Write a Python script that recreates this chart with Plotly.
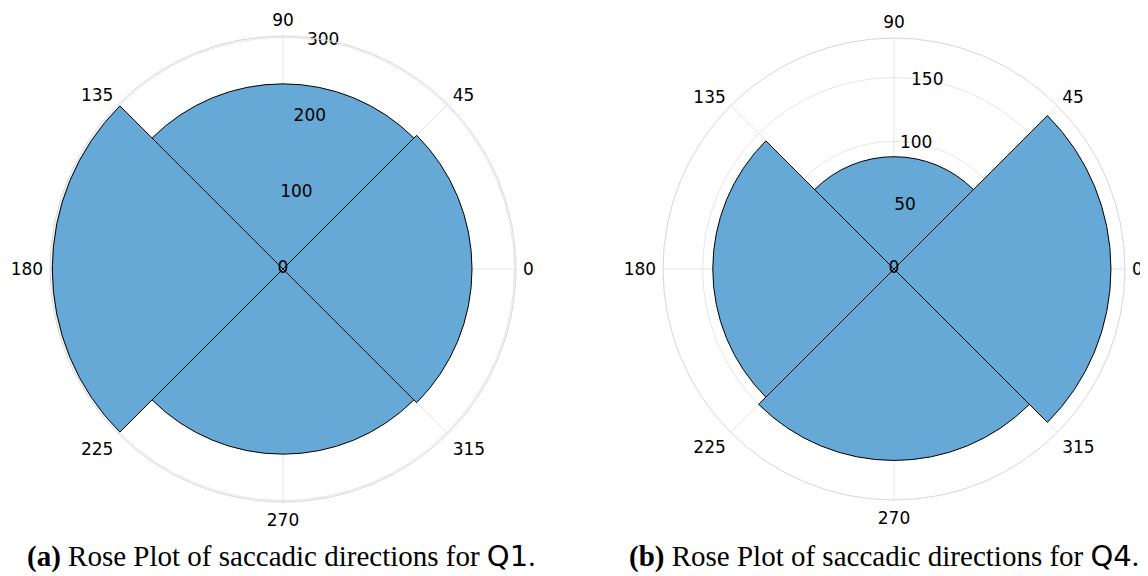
import plotly.graph_objects as go

# Sector centres (degrees) and counts
directions = [0, 90, 180, 270]
counts_q1 = [245, 240, 299, 240]
counts_q4 = [170, 88, 142, 150]
sector_width = 90

angle_ticks = [0, 45, 90, 135, 180, 225, 270, 315]
r_ticks_q1 = [0, 100, 200, 300]
r_ticks_q4 = [0, 50, 100, 150]
rmax_q1 = 302
rmax_q4 = 181
r_label_angle = 80

bar_color = "#66a9d6"
grid_color = "rgba(215,215,215,0.65)"
tick_font = dict(family="DejaVu Sans", size=17, color="black")

# page body has an 8px margin, so the figure is laid out in a shifted box
W, H = 1140, 568


def px_x(x):
    return (x - 8) / W


def px_y(y):
    return (H - (y - 8)) / H


fig = go.Figure()
for counts, rticks, sp in [(counts_q1, r_ticks_q1, "polar"), (counts_q4, r_ticks_q4, "polar2")]:
    fig.add_trace(go.Barpolar(r=counts, theta=directions, width=[sector_width] * len(counts),
                              marker=dict(color=bar_color, line=dict(color="black", width=1)),
                              subplot=sp, showlegend=False, hoverinfo="skip"))
    # radial tick labels, centred on the label angle
    fig.add_trace(go.Scatterpolar(r=rticks, theta=[r_label_angle] * len(rticks),
                                  text=[str(v) for v in rticks], mode="text",
                                  textposition="middle center", textfont=tick_font,
                                  cliponaxis=False, subplot=sp, showlegend=False,
                                  hoverinfo="skip"))


def polar_layout(cx, cy, rad, rticks, rmax):
    return dict(
        domain=dict(x=[px_x(cx - rad), px_x(cx + rad)], y=[px_y(cy + rad), px_y(cy - rad)]),
        bgcolor="white",
        angularaxis=dict(rotation=0, direction="counterclockwise",
                         tickmode="array", tickvals=angle_ticks,
                         ticktext=[str(a) for a in angle_ticks],
                         showgrid=True, gridcolor=grid_color, gridwidth=1,
                         showline=True, linecolor="#d6d6d6", linewidth=1,
                         ticks="outside", ticklen=3, tickcolor="rgba(0,0,0,0)",
                         tickfont=tick_font, layer="above traces"),
        radialaxis=dict(range=[0, rmax], tickmode="array", tickvals=rticks,
                        showticklabels=False, angle=r_label_angle,
                        showgrid=True, gridcolor=grid_color, gridwidth=1,
                        showline=False, ticks="", layer="above traces"),
    )


caption_font = dict(family="Liberation Serif", size=29, color="black")
sans = "font-family:'DejaVu Sans'"

fig.update_layout(
    width=W, height=H,
    margin=dict(l=0, r=0, t=0, b=0),
    paper_bgcolor="white",
    polar=polar_layout(283, 269, 233, r_ticks_q1, rmax_q1),
    polar2=polar_layout(894, 269, 231, r_ticks_q4, rmax_q4),
    annotations=[
        dict(x=px_x(281), y=px_y(556), xref="paper", yref="paper", showarrow=False,
             xanchor="center", yanchor="middle",
             text=f"<b>(a)</b> Rose Plot of saccadic directions for <span style=\"{sans}\">Q1</span>.",
             font=caption_font),
        dict(x=px_x(884), y=px_y(556), xref="paper", yref="paper", showarrow=False,
             xanchor="center", yanchor="middle",
             text=f"<b>(b)</b> Rose Plot of saccadic directions for <span style=\"{sans}\">Q4</span>.",
             font=caption_font),
    ],
)

fig.write_html("out.html")
